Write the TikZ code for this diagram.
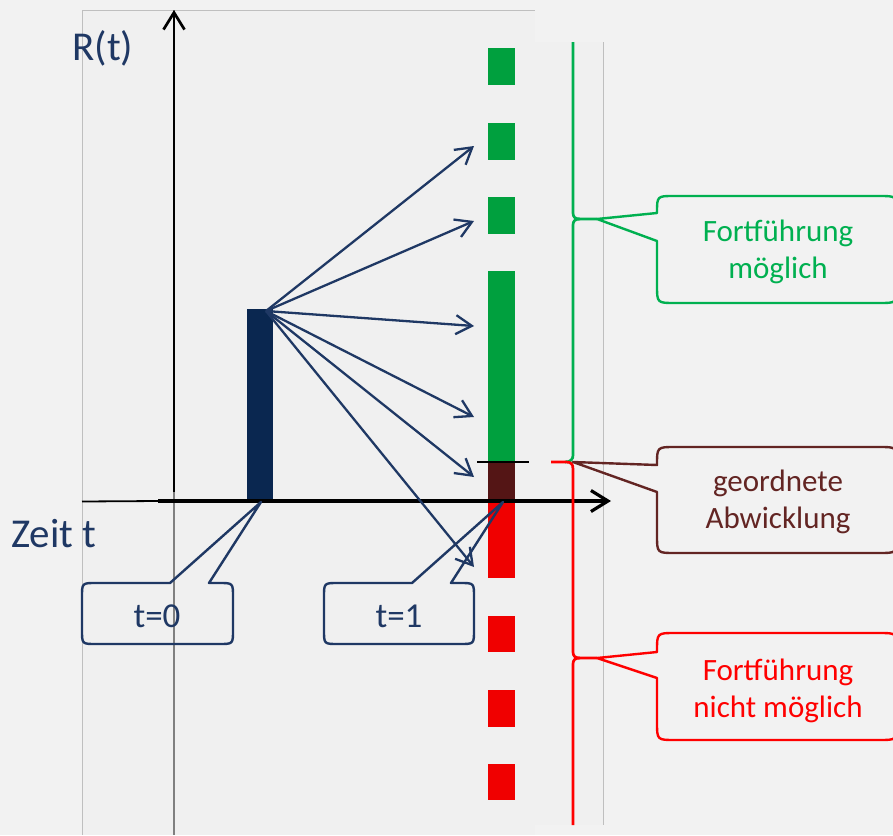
\documentclass[tikz,border=0pt]{standalone}
\usepackage{fontspec}
\setmainfont{Carlito}
\usetikzlibrary{arrows.meta}
\definecolor{bggray}{HTML}{F2F2F2}
\definecolor{panelgray}{HTML}{F0F0F0}
\definecolor{framegray}{HTML}{BFBFBF}
\definecolor{axisgray}{HTML}{808080}
\definecolor{navytext}{HTML}{1F3864}
\definecolor{navybar}{HTML}{0A2750}
\definecolor{bargreen}{HTML}{00A03E}
\definecolor{bracegreen}{HTML}{00B050}
\definecolor{barred}{HTML}{F00000}
\definecolor{bracered}{HTML}{FF0000}
\definecolor{barbrown}{HTML}{541515}
\definecolor{callbrown}{HTML}{632523}
\tikzset{>={Straight Barb[length=16pt,width=19pt]}}
\tikzset{
  axis/.style={line width=3.2pt,-{Straight Barb[length=17pt,width=21pt]}},
  path arrow/.style={navytext,line width=2.3pt,->},
  callout line/.style={line width=2.4pt,line join=round},
  brace line/.style={line width=2.7pt},
  big label/.style={navytext,inner sep=0pt,font=\fontsize{41}{49}\selectfont},
  time label/.style={navytext,inner sep=0pt,font=\fontsize{35}{42}\selectfont},
  side label/.style={inner sep=0pt,align=center,font=\fontsize{31}{37}\selectfont}
}

\begin{document}
\begin{tikzpicture}[x=1pt,y=-1pt]
      \useasboundingbox (0,0) rectangle (893,835);
      \fill[bggray] (0,0) rectangle (893,835);
      \fill[panelgray] (82,10) rectangle (535,835);
      \fill[panelgray] (535,42) rectangle (603,825);
      \draw[framegray,line width=1pt] (82,835) -- (82,10) -- (535,10);
      \draw[framegray,line width=1pt] (603,42) -- (603,825);
      \draw[axisgray,line width=1.4pt] (174,10) -- (174,835);

      \fill[navybar] (247,309) rectangle (273,501);

      \fill[bargreen] (488,48) rectangle (515,85);
      \fill[bargreen] (488,123) rectangle (515,160);
      \fill[bargreen] (488,197) rectangle (515,234);
      \fill[bargreen] (488,271) rectangle (515,462);
      \fill[barbrown] (488,462) rectangle (515,501);
      \fill[barred] (488,501) rectangle (515,578);
      \fill[barred] (488,616) rectangle (515,652);
      \fill[barred] (488,690) rectangle (515,727);
      \fill[barred] (488,764) rectangle (515,800);

      \coordinate (xstart) at (158,501);
      \coordinate (xend) at (611,501);
      \coordinate (ystart) at (174,492);
      \coordinate (yend) at (174,10);

      \draw[line width=1.8pt] (82,501.5) -- (xstart);
      \draw[axis] (xstart) -- (xend);
      \draw[axis,line width=2.7pt] (ystart) -- (yend);

      \coordinate (cutl) at (477,462);
      \coordinate (cutr) at (529,462);
      \draw[line width=2.4pt] (cutl) -- (cutr);

      \node[big label,anchor=base] (rlabel) at (103,60) {R(t)};
      \node[big label,anchor=base west] (tlabel) at (11,547) {Zeit t};

      \coordinate (src) at (266,311);
      \coordinate (r1) at (474,146);
      \coordinate (r2) at (474,221);
      \coordinate (r3) at (474,326);
      \coordinate (r4) at (474,417);
      \coordinate (r5) at (474,477);
      \coordinate (r6) at (474,567);

      \draw[path arrow] (src) -- (r1);
      \draw[path arrow] (src) -- (r2);
      \draw[path arrow] (src) -- (r3);
      \draw[path arrow] (src) -- (r4);
      \draw[path arrow] (src) -- (r5);
      \draw[path arrow] (src) -- (r6);

      \draw[callout line,navytext] (261,502) -- (209,583) -- (219,583)
      .. controls (233,583) .. (233,597) -- (233,630)
      .. controls (233,644) .. (219,644) -- (96,644)
      .. controls (82,644) .. (82,630) -- (82,597)
      .. controls (82,583) .. (96,583) -- (170,583) -- cycle;
      \node[time label,anchor=base] (tzero) at (157,627) {t=0};

      \draw[callout line,navytext] (503,502) -- (451,583) -- (460,583)
      .. controls (474,583) .. (474,597) -- (474,630)
      .. controls (474,644) .. (460,644) -- (338,644)
      .. controls (324,644) .. (324,630) -- (324,597)
      .. controls (324,583) .. (338,583) -- (412,583) -- cycle;
      \node[time label,anchor=base] (tone) at (399,627) {t=1};

      \coordinate (gtip) at (597,219);
      \coordinate (rtip) at (597,658);
      \coordinate (btip) at (573,462);

      \draw[brace line,bracegreen] (573,42) -- (573,213)
      .. controls (573,217) and (575,219) .. (580,219) -- (gtip);
      \draw[brace line,bracegreen] (580,219) .. controls (575,219) and (573,221) .. (573,225)
      -- (573,455) .. controls (573,459) and (571,462) .. (565,462);

      \draw[brace line,bracered] (551,462) -- (566,462)
      .. controls (571,462) and (573,464) .. (573,469) -- (573,652)
      .. controls (573,656) and (575,658) .. (580,658) -- (rtip);
      \draw[brace line,bracered] (580,658) .. controls (575,658) and (573,660) .. (573,664)
      -- (573,825);

      \draw[callout line,bracegreen] (gtip) -- (657,241) -- (657,285)
      .. controls (657,303) .. (675,303) -- (879,303)
      .. controls (897,303) .. (897,285) -- (897,214)
      .. controls (897,196) .. (879,196) -- (674,196)
      .. controls (657,196) .. (657,213) -- cycle;
      \node[side label,bracegreen] (gomoeglich) at (778,252) {Fortführung\\möglich};

      \draw[callout line,callbrown] (btip) -- (657,492) -- (657,535)
      .. controls (657,553) .. (675,553) -- (879,553)
      .. controls (897,553) .. (897,535) -- (897,465)
      .. controls (897,447) .. (879,447) -- (675,447)
      .. controls (657,447) .. (657,465) -- cycle;
      \node[side label,callbrown] (geordnet) at (778,502) {geordnete\\Abwicklung};

      \draw[callout line,bracered] (rtip) -- (657,678) -- (657,722)
      .. controls (657,740) .. (675,740) -- (879,740)
      .. controls (897,740) .. (897,722) -- (897,651)
      .. controls (897,633) .. (879,633) -- (675,633)
      .. controls (657,633) .. (657,651) -- (657,652) -- cycle;
      \node[side label,bracered] (nomoeglich) at (778,691) {Fortführung\\nicht möglich};
\end{tikzpicture}
\end{document}
